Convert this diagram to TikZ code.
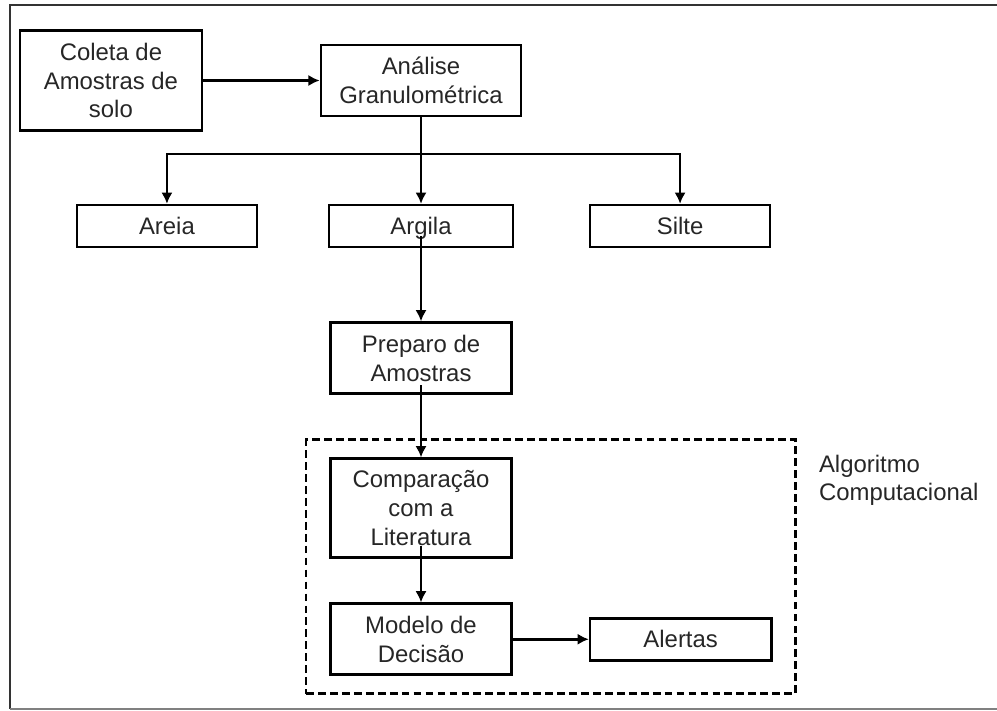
\documentclass[tikz,border=0pt]{standalone}
\usepackage{fontspec}
\setmainfont{Liberation Sans}
\usepackage{xcolor}
\usepackage{tikz}
\usetikzlibrary{positioning,calc,fit,arrows.meta}

\begin{document}
\begin{tikzpicture}[
  x=0.025cm, y=-0.025cm,
  >={Latex[length=8pt,width=8pt]},
  box/.style={rectangle, draw, line width=1.9pt, text=black!85, align=center, minimum width=4.5cm, minimum height=1.05cm, font=\fontsize{17}{20.5}\selectfont},
  tall/.style={box, minimum height=1.775cm},
  link/.style={->, line width=1.9pt}
]
\useasboundingbox (0,0) rectangle (997,710);

% Outer frame
\draw[line width=1.8pt, black!80] (997,5) -- (10,5) -- (10,709);
\draw[line width=1pt, gray] (10,709) -- (997,709);

% Top row
\node[tall, minimum width=5cm] (analise) at (421,80.5) {Análise\\Granulométrica};
\node[box, minimum width=4.55cm, minimum height=2.5cm, node distance=7.75cm, left of=analise] (coleta) {Coleta de\\Amostras de\\solo};

% Fractions row
\node[box, minimum width=4.6cm, text depth=0pt, node distance=3.64cm, below of=analise] (argila) {Argila};
\node[box, node distance=6.35cm, left of=argila] (areia) {Areia};
\node[box, node distance=6.475cm, right of=argila] (silte) {Silte};

% Preparation
\node[tall, minimum width=4.525cm, node distance=3.3cm, below of=argila] (preparo) {Preparo de\\Amostras};

% Algorithm
\node[tall, minimum width=4.525cm, minimum height=2.475cm, node distance=3.75cm, below of=preparo] (comparacao) {Comparação\\com a\\Literatura};
\node[tall, minimum width=4.525cm, node distance=3.275cm, below of=comparacao] (modelo) {Modelo de\\Decisão};
\node[box, minimum width=4.525cm, node distance=6.49cm, right of=modelo] (alertas) {Alertas};

% Dashed group
\node[draw, dashed, dash pattern=on 5.5pt off 3pt, line width=1.9pt, inner xsep=0.575cm, inner ysep=0.44cm, fit=(comparacao)(modelo)(alertas)] (algo) {};
\node[anchor=west, align=left, text=black!85, font=\fontsize{17}{20.5}\selectfont] (algolabel) at ([xshift=0.43cm, yshift=2.16cm]algo.east) {Algoritmo\\Computacional};

% Arrows
\coordinate (split) at ([yshift=-0.92cm]analise.south);
\draw[link] (coleta) -- (analise);
\draw[link] (analise) -- (argila);
\draw[link] (split) -| (areia);
\draw[link] (split) -| (silte);
\draw[link] ([yshift=0.3cm]argila.south) -- (preparo);
\draw[link] ([yshift=0.25cm]preparo.south) -- (comparacao);
\draw[link] ([yshift=0.32cm]comparacao.south) -- (modelo);
\draw[link] (modelo) -- (alertas);

\end{tikzpicture}
\end{document}
